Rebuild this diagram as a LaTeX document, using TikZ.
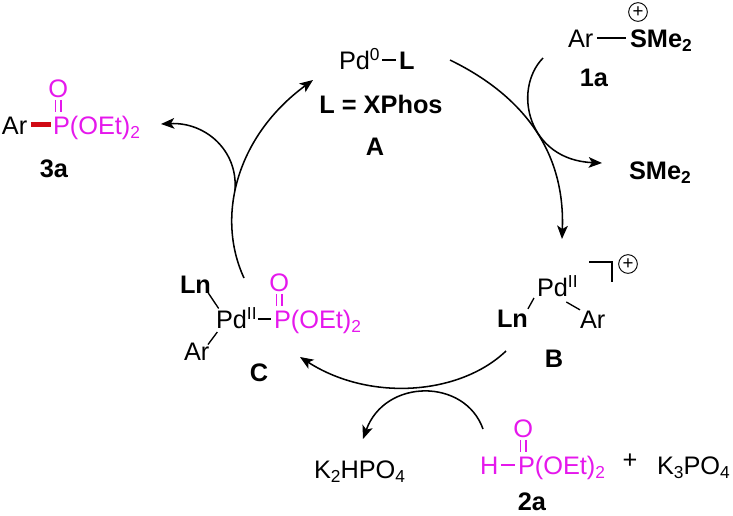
\documentclass[tikz,border=0pt]{standalone}
\usepackage{fontspec}
\setmainfont{Liberation Sans}
\usetikzlibrary{positioning,arrows.meta}
\definecolor{phos}{RGB}{229,24,236}
\definecolor{redbond}{RGB}{208,10,20}
\newcommand{\subn}[1]{\raisebox{-3.4pt}{\fontsize{13}{13}\selectfont #1}}
\newcommand{\supn}[1]{\raisebox{6.4pt}{\fontsize{13}{13}\selectfont #1}}
\tikzset{
  chem/.style={inner sep=0pt,outer sep=0pt,text height=13.6pt,text depth=0pt,font=\fontsize{19}{22}\selectfont},
  lab/.style={chem,font=\fontsize{19}{22}\selectfont\bfseries},
  po/.style={chem,text=phos},
  bond/.style={line width=1pt,shorten >=2pt,shorten <=2pt},
  arc/.style={->,line width=1.15pt},
  charge/.style={draw,circle,line width=.7pt,inner sep=0pt,minimum size=14pt,font=\fontsize{14}{14}\selectfont}
}
\begin{document}
\begin{tikzpicture}[x=.75pt,y=-.75pt,>={Stealth[length=10pt,width=8pt,inset=2.5pt]}]
\useasboundingbox (0,0) rectangle (733,515);

% Catalyst A
\node[chem,anchor=base west] (pdA) at (339,69) {Pd\supn{0}};
\node[lab,anchor=base west] (ligA) at (399,69) {L};
\node[lab,anchor=base] (xphos) at (381,113) {L = XPhos};
\node[lab,anchor=base] (labA) at (375,155) {A};
\draw[bond] (pdA.east) -- (ligA.west);

% Salt 1a
\node[chem,anchor=base west] (arOne) at (568,47) {Ar};
\node[lab,anchor=base west] (smeOne) at (630,47) {SMe\subn{2}};
\node[charge] (plusOne) at (638,12) {+};
\node[lab,anchor=base] (labOne) at (594,86) {1a};
\draw[bond,shorten <=3pt,shorten >=3pt] (arOne.east) -- (smeOne.west);

% Leaving SMe2
\node[lab,anchor=base west] (smeOut) at (629,179) {SMe\subn{2}};

% Complex B
\node[chem,anchor=base west] (pdB) at (537,296) {Pd\supn{II}};
\node[lab,anchor=base west] (lnB) at (497,327) {Ln};
\node[chem,anchor=base west] (arB) at (580,328) {Ar};
\node[charge] (plusB) at (628,264) {+};
\node[lab,anchor=base] (labB) at (554,367) {B};
\draw[line width=1pt] (lnB.north east) -- ([shift={(-3,2)}]pdB.south west);
\draw[line width=1pt] ([shift={(9,6)}]pdB.south) -- (arB.north west);
\draw[line width=1pt] (589,262) -| (612,282);

% Complex C
\node[lab,anchor=base west] (lnC) at (180,293) {Ln};
\node[chem,anchor=base west] (pdC) at (216,328) {Pd\supn{II}};
\node[chem,anchor=base west] (arC) at (184,360) {Ar};
\node[po,anchor=base west] (pC) at (274,328) {P};
\node[po,right=0pt of pC] (etC) {(OEt)\subn{2}};
\node[po,above=14pt of pC,xshift=-2.4pt] (oC) {O};
\node[lab,anchor=base] (labC) at (259,381) {C};
\draw[line width=1pt] ([xshift=-2pt]lnC.south east) -- ([xshift=2pt,yshift=1pt]pdC.north west);
\draw[line width=1pt] ([xshift=1pt,yshift=-3pt]pdC.south west) -- ([yshift=-2pt,xshift=-1pt]arC.north east);
\draw[bond,shorten <=1pt] (pdC.east) -- (pC.west);

% Product 3a
\node[chem,anchor=base west] (arThree) at (2,134) {Ar};
\node[po,anchor=base west] (pThree) at (53,134) {P};
\node[po,right=0pt of pThree] (etThree) {(OEt)\subn{2}};
\node[po,above=14pt of pThree,xshift=-2.4pt] (oThree) {O};
\node[lab,anchor=base] (labThree) at (54,177) {3a};
\draw[redbond,line width=3.8pt,shorten <=2.5pt,shorten >=1.5pt] (arThree.east) -- (pThree.west);

% Phosphite 2a and base
\node[po,anchor=base west] (hTwo) at (480,474) {H};
\node[po,anchor=base west] (pTwo) at (518,474) {P};
\node[po,right=0pt of pTwo] (etTwo) {(OEt)\subn{2}};
\node[po,above=14pt of pTwo,xshift=-2.4pt] (oTwo) {O};
\node[lab,anchor=base] (labTwo) at (532,510) {2a};
\draw[bond,phos] (hTwo.east) -- (pTwo.west);
\node[chem,anchor=base] (plus) at (630,468) {+};
\node[chem,anchor=base west] (kThree) at (657,474) {K\subn{3}PO\subn{4}};
\node[chem,anchor=base west] (kTwo) at (314,478) {K\subn{2}HPO\subn{4}};

% P=O double bonds
\foreach \p/\o in {pThree/oThree,pC/oC,pTwo/oTwo} {
  \foreach \s in {-2.1pt,2.1pt} {
    \draw[phos,line width=1pt,shorten <=2pt,shorten >=2.6pt] ([xshift=\s]\o.south) -- ([xshift=\s]\o.south |- \p.north);
  }
}

% Arc ends
\coordinate (arcAstart) at (450,60);
\coordinate (arcAend) at (562,239);
\coordinate (oneIn) at (543,58);
\coordinate (smeTip) at (602,163);
\coordinate (arcBstart) at (506,351);
\coordinate (arcBend) at (300,357);
\coordinate (twoIn) at (483,429);
\coordinate (kTip) at (363,439);
\coordinate (arcCstart) at (244,278);
\coordinate (arcCend) at (313,80);
\coordinate (threeOut) at (235,190);
\coordinate (threeTip) at (161,124);

% Catalytic cycle
\draw[arc] (arcAstart) .. controls (532,100) and (565,160) .. (arcAend);
\draw[arc] (arcBstart) .. controls (460,395) and (370,402) .. (arcBend);
\draw[arc] (arcCstart) .. controls (215,215) and (238,135) .. (arcCend);

% Side arrows
\draw[arc] (oneIn) .. controls (512,90) and (528,160) .. (smeTip);
\draw[arc] (twoIn) .. controls (465,378) and (385,378) .. (kTip);
\draw[arc] (threeOut) .. controls (238,150) and (205,122) .. (threeTip);

\end{tikzpicture}
\end{document}
